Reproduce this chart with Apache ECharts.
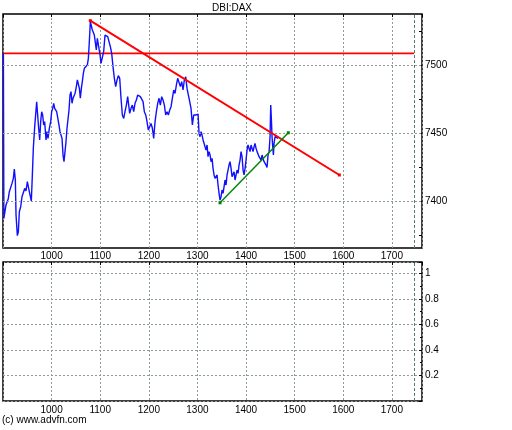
<!DOCTYPE html>
<html><head><meta charset="utf-8">
<script src="https://cdn.jsdelivr.net/npm/echarts@6/dist/echarts.min.js"></script>
<style>html,body{margin:0;padding:0;background:#fff}#c{width:512px;height:430px}</style>
</head><body><div id="c"></div>
<script>
const chartTitle = 'DBI:DAX';
const credit = '(c) www.advfn.com';
const xTickValues = [1000, 1100, 1200, 1300, 1400, 1500, 1600, 1700];
const priceLabelValues = [7400, 7450, 7500];
const priceTickValues = [7375, 7400, 7425, 7450, 7475, 7500, 7525];
const priceX = [900.8, 901.8, 906.2, 908.9, 911.0, 913.0, 916.5, 918.5, 921.3, 923.3, 925.4, 926.8, 929.5, 931.6, 933.6, 936.4, 939.1, 941.8, 944.6, 947.3, 950.1, 952.8, 955.6, 958.3, 960.4, 962.4, 965.2, 967.2, 969.3, 971.3, 973.4, 975.5, 977.5, 979.6, 981.6, 983.7, 985.7, 988.5, 990.5, 992.6, 995.3, 998.1, 1000.1, 1002.2, 1004.3, 1006.3, 1008.4, 1010.4, 1013.2, 1015.2, 1017.3, 1019.4, 1021.4, 1023.5, 1025.5, 1027.6, 1029.6, 1031.7, 1033.8, 1035.8, 1037.9, 1039.9, 1042.0, 1044.0, 1046.1, 1048.2, 1050.9, 1053.0, 1055.0, 1057.1, 1059.1, 1061.2, 1063.2, 1065.3, 1067.4, 1069.4, 1071.5, 1073.5, 1075.6, 1077.6, 1079.7, 1081.8, 1083.8, 1085.9, 1087.9, 1090.0, 1092.0, 1094.1, 1096.2,
  1097.5, 1099.6, 1101.6, 1104.4, 1107.1, 1109.9, 1112.6, 1115.4, 1118.1, 1120.9, 1123.6, 1126.3, 1129.1, 1131.8, 1134.6, 1137.3, 1140.1, 1142.8, 1145.5, 1148.3, 1151.0, 1153.8, 1156.5, 1158.6, 1160.6, 1163.4, 1166.1, 1168.9, 1171.6, 1174.4, 1177.1, 1179.8, 1182.6, 1185.3, 1188.1, 1190.8, 1193.6, 1196.3, 1199.0, 1201.8, 1204.5, 1207.3, 1210.0, 1212.8, 1215.5, 1218.3, 1221.0, 1223.7, 1226.5, 1229.2, 1232.0, 1234.7, 1237.5, 1240.2, 1243.0, 1245.7, 1248.4, 1251.2, 1253.9, 1256.7, 1259.4, 1262.2, 1264.9, 1267.6, 1270.4, 1273.1, 1275.9, 1278.6, 1281.4, 1284.1, 1286.8, 1289.6, 1292.3, 1295.1,
  1297.1, 1299.2, 1301.3, 1303.3, 1305.4, 1307.4, 1309.5, 1311.6, 1313.6, 1315.7, 1317.7, 1319.8, 1321.8, 1323.9, 1326.0, 1328.0, 1330.1, 1332.1, 1334.2, 1336.2, 1338.3, 1340.4, 1342.4, 1344.5, 1346.5, 1348.6, 1350.6, 1352.7, 1354.8, 1356.8, 1358.9, 1360.9, 1363.0, 1365.0, 1367.1, 1369.2, 1371.2, 1373.3, 1375.3, 1377.4, 1379.5, 1381.5, 1383.6, 1385.6, 1387.7, 1389.7, 1391.8, 1393.9, 1395.9, 1398.0, 1400.0, 1402.1, 1404.1, 1406.2, 1408.3, 1410.3, 1412.4, 1414.4, 1416.5, 1418.5, 1420.6, 1422.7, 1424.7, 1426.8, 1428.8, 1430.9, 1433.0, 1435.0, 1437.1, 1439.1, 1441.2, 1443.2, 1445.3, 1447.4, 1449.4, 1450.8, 1452.2, 1453.5, 1454.9, 1456.3, 1457.6, 1459.7, 1461.8, 1463.8, 1465.9];
const priceY = [7508.8, 7387.2, 7397.1, 7395.8, 7401.9, 7406.9, 7408.1, 7413.0, 7416.7, 7423.6, 7415.5, 7389.7, 7374.5, 7377.4, 7392.1, 7395.8, 7403.2, 7404.4, 7409.3, 7407.4, 7414.3, 7409.3, 7408.1, 7400.0, 7419.2, 7438.8, 7454.8, 7456.0, 7473.2, 7463.4, 7453.6, 7445.0, 7458.5, 7465.8, 7463.4, 7456.0, 7458.5, 7445.0, 7451.1, 7446.2, 7453.6, 7458.5, 7465.8, 7468.3, 7472.0, 7468.3, 7469.5, 7465.8, 7465.8, 7456.0, 7451.1, 7452.3, 7446.2, 7433.9, 7429.0, 7436.4, 7443.7, 7453.6, 7452.3, 7467.1, 7478.1, 7480.6, 7472.0, 7475.7, 7476.9, 7479.3, 7484.3, 7489.2, 7490.4, 7483.0, 7475.7, 7483.0, 7488.0, 7494.1, 7497.8, 7499.0, 7497.8, 7500.2, 7505.1, 7517.4, 7532.2, 7532.2, 7526.0, 7524.8, 7522.3, 7523.6, 7511.3, 7519.9, 7518.7,
  7518.6, 7507.6, 7501.5, 7501.5, 7510.1, 7522.3, 7523.6, 7521.1, 7517.4, 7513.7, 7508.8, 7499.0, 7490.4, 7484.3, 7489.2, 7492.4, 7490.4, 7475.7, 7463.4, 7460.9, 7465.8, 7470.7, 7476.9, 7470.7, 7464.6, 7468.3, 7470.7, 7465.8, 7472.0, 7474.4, 7478.1, 7478.6, 7476.9, 7475.7, 7473.2, 7465.8, 7463.4, 7458.5, 7452.3, 7453.6, 7457.2, 7453.6, 7446.2, 7458.5, 7465.8, 7472.0, 7475.7, 7470.7, 7476.9, 7474.4, 7470.7, 7463.4, 7465.8, 7463.4, 7467.1, 7469.5, 7475.7, 7481.8, 7479.3, 7485.5, 7490.4, 7490.9, 7484.3, 7488.0, 7481.8, 7489.2, 7491.6, 7483.0, 7483.0, 7473.2, 7468.3, 7456.0, 7463.4, 7464.6,
  7463.4, 7464.6, 7464.1, 7449.9, 7447.4, 7451.1, 7448.6, 7445.0, 7446.2, 7440.0, 7437.6, 7441.3, 7432.7, 7436.4, 7433.9, 7429.0, 7431.4, 7424.1, 7419.2, 7416.7, 7415.5, 7419.2, 7411.8, 7405.7, 7400.7, 7403.2, 7408.1, 7405.7, 7410.6, 7415.5, 7411.8, 7419.2, 7422.8, 7426.5, 7429.0, 7424.1, 7417.9, 7416.7, 7421.6, 7415.5, 7419.2, 7422.8, 7420.4, 7426.5, 7430.2, 7436.4, 7432.7, 7422.8, 7419.2, 7424.1, 7430.2, 7437.6, 7441.3, 7438.8, 7436.4, 7441.3, 7438.8, 7436.4, 7440.0, 7442.5, 7438.8, 7436.4, 7435.1, 7432.7, 7433.9, 7430.2, 7433.9, 7431.4, 7429.0, 7430.2, 7426.5, 7424.8, 7433.9, 7436.4, 7447.4, 7470.7, 7459.7, 7447.4, 7440.0, 7433.9, 7442.5, 7447.4, 7446.2, 7447.4, 7446.2];
const redTrendX = [1079.6, 1592.0];
const redTrendY = [7532.9, 7419.2];
const greenTrendX = [1346.5, 1487.0];
const greenTrendY = [7398.7, 7450.3];
const levelX = [900, 1745.7];
const levelY = [7508.8, 7508.8];
const markerX = 1745.7;
const xMin = 900, xMax = 1762, xStep = 100;
const priceMin = 7365.4, priceMax = 7537.8;
const lowerMin = 0, lowerMax = 1.0885, lowerStep = 0.2;

const pairs = (xs, ys) => xs.map((x, i) => [x, ys[i]]);
const FONT = 'Liberation Sans';
const gridLine = {color: '#8f9a9a', type: [2, 2], width: 1};
const markerStyle = {color: '#5a7878', type: [3, 2], width: 1};
const lbl = {color: '#000', fontSize: 10, fontFamily: FONT};

const chart = echarts.init(document.getElementById('c'), null, {renderer: 'canvas'});
chart.setOption({
  animation: false,
  backgroundColor: '#fff',
  grid: [
    {left: 3, right: 90, top: 14, height: 234, show: true, borderColor: '#000', borderWidth: 1.5},
    {left: 3, right: 90, top: 262, height: 139, show: true, borderColor: '#000', borderWidth: 1.5}
  ],
  xAxis: [
    {gridIndex: 0, type: 'value', min: xMin, max: xMax, interval: xStep, position: 'bottom',
     axisLine: {show: false}, axisTick: {show: false},
     axisLabel: Object.assign({margin: 3, showMaxLabel: false,
       formatter: v => xTickValues.indexOf(v) >= 0 ? String(v) : ''}, lbl),
     splitLine: {show: true, lineStyle: gridLine}},
    {gridIndex: 0, type: 'value', min: xMin, max: xMax, interval: xStep, position: 'top',
     axisLine: {show: false}, axisTick: {show: true, inside: true, length: 3, lineStyle: {color: '#000'}},
     axisLabel: {show: false}, splitLine: {show: false}},
    {gridIndex: 1, type: 'value', min: xMin, max: xMax, interval: xStep, position: 'bottom',
     axisLine: {show: false}, axisTick: {show: false},
     axisLabel: Object.assign({margin: 4, showMaxLabel: false,
       formatter: v => xTickValues.indexOf(v) >= 0 ? String(v) : ''}, lbl),
     splitLine: {show: true, lineStyle: gridLine}},
    {gridIndex: 1, type: 'value', min: xMin, max: xMax, interval: xStep, position: 'top',
     axisLine: {show: false}, axisTick: {show: true, inside: true, length: 3, lineStyle: {color: '#000'}},
     axisLabel: {show: false}, splitLine: {show: false}}
  ],
  yAxis: [
    {gridIndex: 0, type: 'value', min: priceMin, max: priceMax, position: 'right',
     axisLine: {show: false},
     axisTick: {show: true, inside: true, length: 3, customValues: priceTickValues, lineStyle: {color: '#000'}},
     axisLabel: Object.assign({margin: 3, customValues: priceLabelValues, formatter: v => String(Math.round(v))}, lbl),
     splitLine: {show: false}},
    {gridIndex: 1, type: 'value', min: lowerMin, max: lowerMax, interval: lowerStep, position: 'right',
     axisLine: {show: false},
     axisTick: {show: true, inside: true, length: 3, lineStyle: {color: '#000'}},
     minorTick: {show: true, splitNumber: 2, length: 2, lineStyle: {color: '#000'}},
     axisLabel: Object.assign({margin: 3, showMinLabel: false, showMaxLabel: false,
       formatter: v => (Math.round(v * 10) / 10).toString()}, lbl),
     splitLine: {show: true, lineStyle: gridLine}}
  ],
  series: [
    {type: 'line', xAxisIndex: 0, yAxisIndex: 0, data: [], z: 1, silent: true,
     markLine: {silent: true, symbol: ['none', 'none'], label: {show: false}, animation: false,
       lineStyle: gridLine,
       data: priceLabelValues.map(v => ({yAxis: v})).concat([{xAxis: markerX, lineStyle: markerStyle}])}},
    {type: 'line', xAxisIndex: 2, yAxisIndex: 1, data: [], z: 1, silent: true,
     markLine: {silent: true, symbol: ['none', 'none'], label: {show: false}, animation: false,
       lineStyle: markerStyle, data: [{xAxis: markerX}]}},
    {type: 'line', xAxisIndex: 0, yAxisIndex: 0, data: pairs(levelX, levelY), showSymbol: false, z: 3,
     lineStyle: {color: '#ff0000', width: 1.6}, silent: true},
    {type: 'line', xAxisIndex: 0, yAxisIndex: 0, data: pairs(priceX, priceY), showSymbol: false, z: 4,
     lineStyle: {color: '#1010ff', width: 1.4}, silent: true},
    {type: 'line', xAxisIndex: 0, yAxisIndex: 0, data: pairs(redTrendX, redTrendY), symbol: 'rect', symbolSize: 3, z: 5,
     itemStyle: {color: '#ff0000'}, lineStyle: {color: '#ff0000', width: 2}, silent: true},
    {type: 'line', xAxisIndex: 0, yAxisIndex: 0, data: pairs(greenTrendX, greenTrendY), symbol: 'rect', symbolSize: 3, z: 5,
     itemStyle: {color: '#008000'}, lineStyle: {color: '#008800', width: 1.5}, silent: true}
  ],
  graphic: [
    {type: 'text', left: 212, top: 3, style: {text: chartTitle, fill: '#000', font: '10px "' + FONT + '"'}},
    {type: 'text', left: 2, top: 415, style: {text: credit, fill: '#000', font: '10px "' + FONT + '"'}}
  ]
});
</script></body></html>
